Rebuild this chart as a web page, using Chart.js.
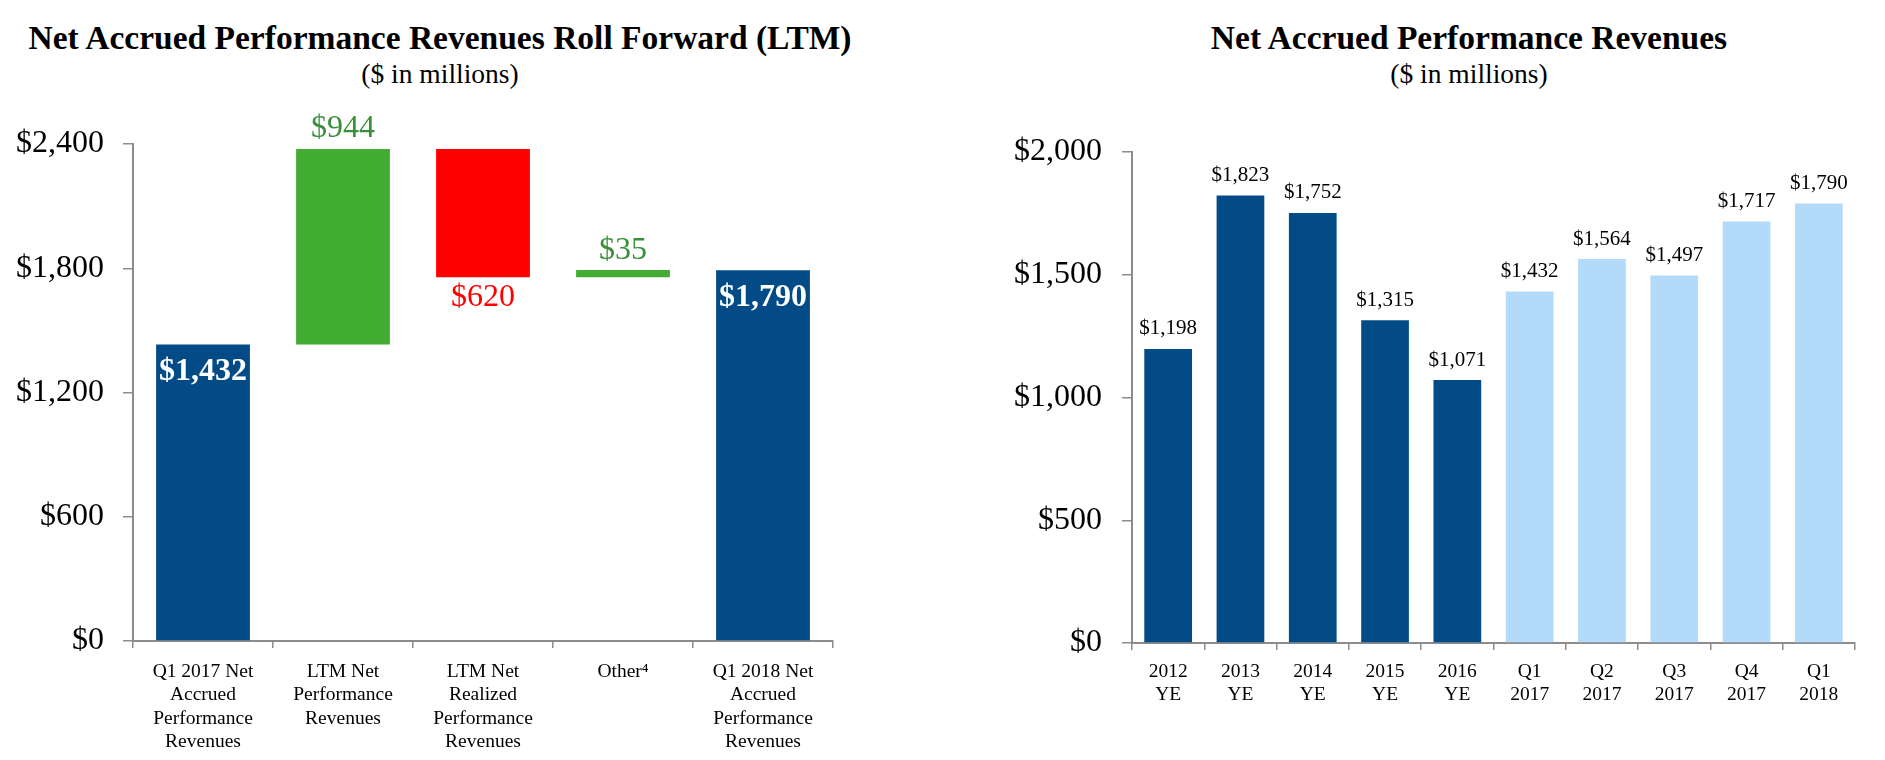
<!DOCTYPE html>
<html>
<head>
<meta charset="utf-8">
<script src="https://cdn.jsdelivr.net/npm/chart.js@4.4.1/dist/chart.umd.min.js"></script>
<style>
  html, body { margin: 0; padding: 0; background: #fff; }
  body { width: 1885px; height: 760px; position: relative; overflow: hidden;
         font-family: "Liberation Serif", "Times New Roman", serif; color: #000; }
  .title { position: absolute; text-align: center; font-weight: bold; font-size: 33.5px;
           line-height: 1; white-space: nowrap; }
  .sub { position: absolute; text-align: center; font-size: 27.5px; line-height: 1; white-space: nowrap; }
  .box { position: absolute; top: 0; height: 760px; }
</style>
</head>
<body>
<div class="title" style="left:0;width:880px;top:21px">Net Accrued Performance Revenues Roll Forward (LTM)</div>
<div class="sub" style="left:0;width:880px;top:60px">($ in millions)</div>
<div class="title" style="left:1053px;width:832px;top:21px">Net Accrued Performance Revenues</div>
<div class="sub" style="left:1053px;width:832px;top:60px">($ in millions)</div>

<div class="box" style="left:0;width:880px"><canvas id="rollChart"></canvas></div>
<div class="box" style="left:1000px;width:885px"><canvas id="histChart"></canvas></div>

<script>
// ---- data: roll forward (LTM) ----
const rollCategories = [
  ["Q1 2017 Net", "Accrued", "Performance", "Revenues"],
  ["LTM Net", "Performance", "Revenues"],
  ["LTM Net", "Realized", "Performance", "Revenues"],
  ["Other⁴"],
  ["Q1 2018 Net", "Accrued", "Performance", "Revenues"]
];
const rollOpening = 1432;
const rollMoves = [944, -620, 35];
const rollClosing = 1790;
const rollTicks = [0, 600, 1200, 1800, 2400];

// ---- data: net accrued performance revenues history ----
const histCategories = [
  ["2012", "YE"], ["2013", "YE"], ["2014", "YE"], ["2015", "YE"], ["2016", "YE"],
  ["Q1", "2017"], ["Q2", "2017"], ["Q3", "2017"], ["Q4", "2017"], ["Q1", "2018"]
];
const histValues = [1198, 1823, 1752, 1315, 1071, 1432, 1564, 1497, 1717, 1790];
const histTicks = [0, 500, 1000, 1500, 2000];

// ---- styles ----
const NAVY = "#024b87";
const LIGHT = "#b4dafa";
const GREEN = "#42ad32";
const GREEN_TXT = "#3b8f3b";
const RED = "#ff0000";
const AXIS = "#8c8c8c";
const SERIF = "'Liberation Serif', 'Times New Roman', serif";

const money = v => "$" + Math.abs(v).toLocaleString("en-US");

// waterfall ranges built from the opening balance and the moves
const rollRanges = [[0, rollOpening]];
let running = rollOpening;
rollMoves.forEach(m => {
  const next = running + m;
  rollRanges.push([Math.min(running, next), Math.max(running, next)]);
  running = next;
});
rollRanges.push([0, rollClosing]);
const rollValues = [rollOpening, ...rollMoves, rollClosing];

const rollColors = [NAVY, GREEN, RED, GREEN, NAVY];
const rollLabelStyle = [
  { pos: "inside", color: "#fff", bold: true },
  { pos: "above", color: GREEN_TXT },
  { pos: "below", color: RED },
  { pos: "above", color: GREEN_TXT },
  { pos: "inside", color: "#fff", bold: true }
];

const barLabels = {
  id: "barLabels",
  afterDatasetsDraw(chart, args, opts) {
    const ctx = chart.ctx;
    const meta = chart.getDatasetMeta(0);
    meta.data.forEach((bar, i) => {
      const st = opts.styles ? opts.styles[i] : { pos: "above", color: "#000" };
      const top = Math.min(bar.y, bar.base);
      const bottom = Math.max(bar.y, bar.base);
      let y;
      if (st.pos === "inside") y = top + opts.inset;
      else if (st.pos === "below") y = bottom + opts.gap;
      else y = top - opts.gap;
      ctx.save();
      ctx.font = (st.bold ? "bold " : "") + opts.size + "px " + SERIF;
      ctx.fillStyle = st.color;
      ctx.textAlign = "center";
      ctx.textBaseline = "middle";
      ctx.fillText(opts.texts[i], bar.x, y);
      ctx.restore();
    });
  }
};

function axisScales(ticks, yWidth, xHeight, yPad, xPad) {
  return {
    x: {
      afterFit: a => { a.height = xHeight; },
      grid: { display: true, offset: true, drawOnChartArea: false, tickLength: 7,
              color: AXIS, lineWidth: 1.5 },
      border: { display: true, color: AXIS, width: 2 },
      ticks: { color: "#000", font: { family: SERIF, size: 19.5, lineHeight: 1.2 },
               padding: xPad, maxRotation: 0, autoSkip: false }
    },
    y: {
      min: ticks[0], max: ticks[ticks.length - 1],
      afterFit: a => { a.width = yWidth; },
      afterBuildTicks: a => { a.ticks = ticks.map(v => ({ value: v })); },
      grid: { display: true, drawOnChartArea: false, tickLength: 10, color: AXIS, lineWidth: 1.5 },
      border: { display: true, color: AXIS, width: 2 },
      ticks: { color: "#000", font: { family: SERIF, size: 32 }, padding: yPad,
               callback: v => money(v) }
    }
  };
}

new Chart(document.getElementById("rollChart").getContext("2d"), {
  type: "bar",
  data: {
    labels: rollCategories,
    datasets: [{
      data: rollRanges,
      backgroundColor: rollColors,
      borderWidth: 0,
      barPercentage: 0.67,
      categoryPercentage: 1
    }]
  },
  options: {
    responsive: true,
    maintainAspectRatio: false,
    animation: false,
    layout: { padding: { left: 0, right: 47, top: 144, bottom: 0 } },
    plugins: {
      legend: { display: false },
      tooltip: { enabled: false },
      barLabels: { texts: rollValues.map(money), styles: rollLabelStyle, size: 32, gap: 20, inset: 27 }
    },
    scales: axisScales(rollTicks, 133, 119, 19, 12)
  },
  plugins: [barLabels]
});

new Chart(document.getElementById("histChart").getContext("2d"), {
  type: "bar",
  data: {
    labels: histCategories,
    datasets: [{
      data: histValues,
      backgroundColor: histValues.map((v, i) => (i < 5 ? NAVY : LIGHT)),
      borderWidth: 0,
      barPercentage: 0.66,
      categoryPercentage: 1
    }]
  },
  options: {
    responsive: true,
    maintainAspectRatio: false,
    animation: false,
    layout: { padding: { left: 0, right: 30, top: 152, bottom: 0 } },
    plugins: {
      legend: { display: false },
      tooltip: { enabled: false },
      barLabels: { texts: histValues.map(money), size: 21, gap: 20, inset: 0 }
    },
    scales: axisScales(histTicks, 132, 117, 20, 10)
  },
  plugins: [barLabels]
});
</script>
</body>
</html>
